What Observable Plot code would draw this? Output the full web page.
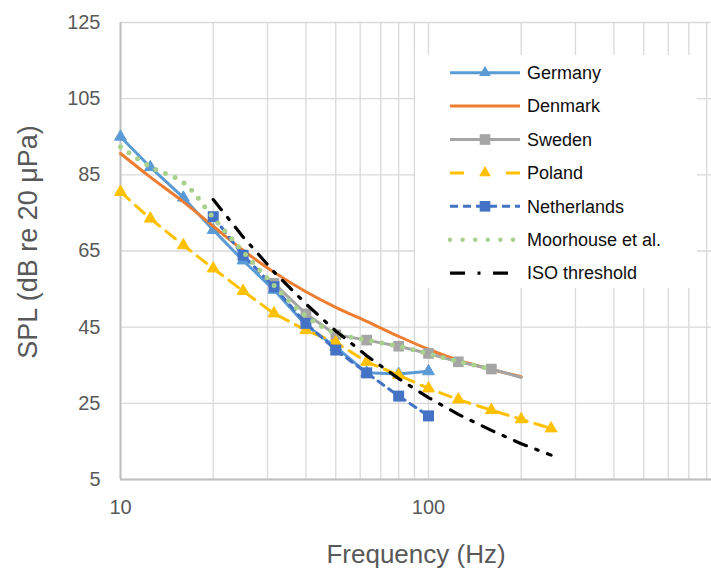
<!DOCTYPE html>
<html>
<head>
<meta charset="utf-8">
<script src="https://cdn.jsdelivr.net/npm/d3@7"></script>
<script src="https://cdn.jsdelivr.net/npm/@observablehq/plot@0.6"></script>
<style>
  html, body { margin: 0; padding: 0; background: #fff; }
  #chart svg { display: block; }
</style>
</head>
<body>
<div id="chart"></div>
<script>
// ---- data ----
const germanyF = [10, 12.5, 16, 20, 25, 31.5, 40, 50, 63, 80, 100];
const germanyL = [95, 87, 79, 70.5, 62.5, 54.8, 45.5, 39.8, 33, 32.7, 33.4];

const denmarkF = [10, 12.5, 16, 20, 25, 31.5, 40, 50, 63, 80, 100, 125, 160, 200];
const denmarkL = [90.6, 84.4, 77.9, 71.5, 65.2, 59.4, 54.3, 50.2, 46.5, 42.6, 39.2, 36.3, 33.9, 32];

const swedenF = [31.5, 40, 50, 63, 80, 100, 125, 160, 200];
const swedenL = [56.5, 48.5, 43, 41.6, 40, 38.1, 35.9, 34, 31.8];
const swedenMarked = [true, true, true, true, true, true, true, true, false];

const polandF = [10, 12.5, 16, 20, 25, 31.5, 40, 50, 63, 80, 100, 125, 160, 200, 250];
const polandL = [80.5, 73.5, 66.5, 60.4, 54.5, 48.6, 44.2, 41, 35.9, 32.4, 28.9, 26, 23.2, 20.8, 18.4];

const netherlandsF = [20, 25, 31.5, 40, 50, 63, 80, 100];
const netherlandsL = [74, 63.9, 55.6, 46, 39, 33, 26.9, 21.7];

const moorhouseF = [10, 12.5, 16, 20, 25, 31.5, 40, 50, 63, 80, 100, 125, 160];
const moorhouseL = [92.4, 87.1, 83, 73.8, 64.8, 56, 47.9, 43.4, 41.6, 40, 38, 36, 34];

const isoF = [20, 25, 31.5, 40, 50, 63, 80, 100, 125, 160, 200, 250];
const isoL = [78.5, 68.7, 59.5, 51.1, 44.0, 37.5, 31.5, 26.5, 22.1, 17.9, 14.4, 11.4];

const yTicks = [5, 25, 45, 65, 85, 105, 125];
const xLabelTicks = [10, 100];
const xGrid = [10, 20, 30, 40, 50, 60, 70, 80, 90, 100, 200, 300, 400, 500, 600, 700, 800];

const xTitle = "Frequency (Hz)";
const yTitle = "SPL (dB re 20 μPa)";

const seriesNames = ["Germany", "Denmark", "Sweden", "Poland", "Netherlands", "Moorhouse et al.", "ISO threshold"];

// ---- styles ----
const C = {
  Germany: "#5B9BD5",
  Denmark: "#ED7D31",
  Sweden: "#A5A5A5",
  Poland: "#FFC000",
  Netherlands: "#4472C4",
  Moorhouse: "#A9D18E",
  ISO: "#000000"
};
// legend sample styles
const legendStyles = [
  {color: C.Germany, dash: null, width: 3, symbol: "triangle", r: 4.4, x2: 520},
  {color: C.Denmark, dash: null, width: 3, symbol: null, x2: 520},
  {color: C.Sweden, dash: null, width: 3, symbol: "square", r: 6, x2: 520},
  {color: C.Poland, dash: "14,42", width: 3, symbol: "triangle", r: 4.4, x2: 520},
  {color: C.Netherlands, dash: "8,5", width: 3, symbol: "square", r: 6, x2: 520},
  {color: C.Moorhouse, dash: "0,12.6", width: 4.5, symbol: null, cap: "round", x2: 514},
  {color: C.ISO, dash: "15,12.5,3,12.5", width: 3.2, symbol: null, x2: 509}
];

const toRows = (F, L) => F.map((f, i) => ({f, v: L[i]}));
const germany = toRows(germanyF, germanyL);
const denmark = toRows(denmarkF, denmarkL);
const sweden = toRows(swedenF, swedenL).map((d, i) => ({...d, m: swedenMarked[i]}));
const poland = toRows(polandF, polandL);
const netherlands = toRows(netherlandsF, netherlandsL);
const moorhouse = toRows(moorhouseF, moorhouseL);
const iso = toRows(isoF, isoL);

const W = 711, H = 569;
const mL = 120, mT = 22, mB = 90, mR = 0;
const decadePx = 308;
const xMax = Math.pow(10, 1 + (W - mL - mR) / decadePx);

const font = "'Liberation Sans', Arial, Helvetica, sans-serif";
const gridColor = "#d9d9d9";
const axisColor = "#bfbfbf";
const textGray = "#595959";

const plot = Plot.plot({
  width: W,
  height: H,
  marginLeft: mL,
  marginTop: mT,
  marginBottom: mB,
  marginRight: mR,
  style: {fontFamily: font, background: "#fff", overflow: "visible"},
  x: {type: "log", domain: [10, xMax], axis: null},
  y: {domain: [5, 125], axis: null},
  marks: [
    Plot.ruleX(xGrid, {stroke: gridColor, strokeWidth: 1.3, y1: 5, y2: 125}),
    Plot.ruleY(yTicks, {stroke: gridColor, strokeWidth: 1.3}),
    Plot.ruleX([10], {stroke: axisColor, strokeWidth: 2, y1: 5, y2: 125}),
    Plot.ruleY([5], {stroke: axisColor, strokeWidth: 2}),
    Plot.axisX(xLabelTicks, {tickSize: 0, tickPadding: 20, fontSize: 20, fill: textGray, tickFormat: d => String(d), label: null}),
    Plot.axisY(yTicks, {tickSize: 0, tickPadding: 20, fontSize: 20, fill: textGray, tickFormat: d => String(d), label: null}),
    // Germany
    Plot.line(germany, {x: "f", y: "v", stroke: C.Germany, strokeWidth: 3, strokeLinejoin: "round"}),
    Plot.dot(germany, {x: "f", y: "v", symbol: "triangle", r: 4.4, fill: C.Germany, stroke: C.Germany, strokeWidth: 1}),
    // Denmark
    Plot.line(denmark, {x: "f", y: "v", stroke: C.Denmark, strokeWidth: 3, curve: "catmull-rom"}),
    // Sweden
    Plot.line(sweden, {x: "f", y: "v", stroke: C.Sweden, strokeWidth: 3, strokeLinejoin: "round"}),
    Plot.dot(sweden.filter(d => d.m), {x: "f", y: "v", symbol: "square", r: 6, fill: C.Sweden}),
    // Poland
    Plot.line(poland, {x: "f", y: "v", stroke: C.Poland, strokeWidth: 3, strokeDasharray: "12,8"}),
    Plot.dot(poland, {x: "f", y: "v", symbol: "triangle", r: 4.4, fill: C.Poland, stroke: C.Poland, strokeWidth: 1}),
    // Netherlands
    Plot.line(netherlands, {x: "f", y: "v", stroke: C.Netherlands, strokeWidth: 3, strokeDasharray: "7,6", strokeLinecap: "round"}),
    Plot.dot(netherlands, {x: "f", y: "v", symbol: "square", r: 6.2, fill: C.Netherlands}),
    // Moorhouse
    Plot.line(moorhouse, {x: "f", y: "v", stroke: C.Moorhouse, strokeWidth: 5, strokeDasharray: "0,10.5", strokeLinecap: "round", curve: "catmull-rom"}),
    // ISO
    Plot.line(iso, {x: "f", y: "v", stroke: C.ISO, strokeWidth: 3.2, strokeDasharray: "13,10,2.5,10"}),
    // axis titles
    Plot.text([xTitle], {frameAnchor: "bottom", lineAnchor: "middle", dy: 75, fontSize: 26, fill: textGray, fontFamily: font}),
    Plot.text([yTitle], {frameAnchor: "left", textAnchor: "middle", dx: -92, dy: -9, rotate: -90, fontSize: 27, fill: textGray, fontFamily: font})
  ]
});

document.getElementById("chart").appendChild(plot);

// ---- legend (inside plot, white box) ----
const svg = d3.select(plot);
const lg = svg.append("g").attr("font-family", font);
const box = {x: 415, y: 55, w: 282, h: 233};
lg.append("rect").attr("x", box.x).attr("y", box.y).attr("width", box.w).attr("height", box.h).attr("fill", "#fff");
const rowY0 = 72.7, rowStep = 33.4, lx1 = 450, tx = 527;
seriesNames.forEach((name, i) => {
  const s = legendStyles[i];
  const y = rowY0 + i * rowStep;
  const ln = lg.append("line").attr("x1", lx1).attr("x2", s.x2).attr("y1", y).attr("y2", y)
    .attr("stroke", s.color).attr("stroke-width", s.width);
  if (s.dash) ln.attr("stroke-dasharray", s.dash);
  if (s.cap) ln.attr("stroke-linecap", s.cap);
  if (s.symbol) {
    const sym = s.symbol === "triangle" ? d3.symbolTriangle : d3.symbolSquare;
    lg.append("path").attr("d", d3.symbol(sym, Math.PI * s.r * s.r)())
      .attr("transform", `translate(485,${y})`)
      .attr("fill", s.color);
  }
  lg.append("text").attr("x", tx).attr("y", y).attr("dy", "0.35em")
    .attr("text-anchor", "start")
    .attr("font-size", 18).attr("fill", "#0d0d0d").text(name);
});
</script>
</body>
</html>
